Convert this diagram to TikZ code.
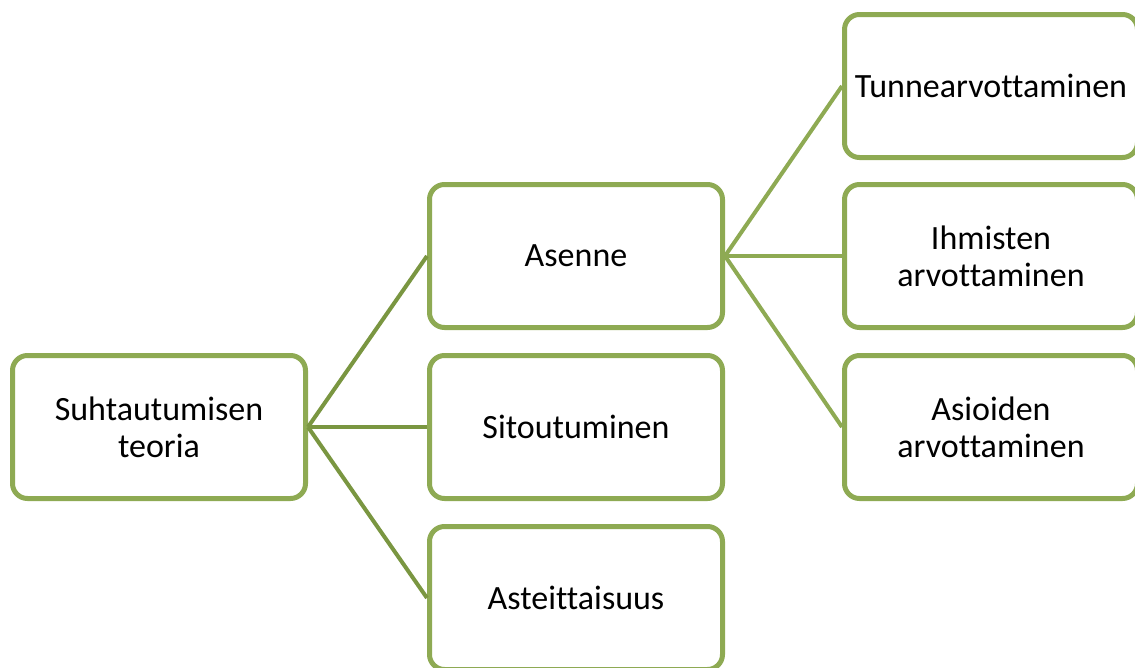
\documentclass[tikz,border=0pt]{standalone}
\usepackage{fontspec}
\setmainfont{Carlito}[Ligatures=NoCommon]
\definecolor{boxgreen}{HTML}{8EAA53}
\definecolor{linkgreen}{HTML}{7A9641}
\begin{document}
\begin{tikzpicture}[x=1pt,y=-1pt,
  box/.style={draw=boxgreen,line width=5pt,rounded corners=15pt,fill=white,
    minimum width=293pt,minimum height=143pt,align=center,inner sep=0pt,
    font=\fontsize{34}{37}\selectfont},
  link/.style={draw=boxgreen,line width=4pt},
  rootlink/.style={draw=linkgreen,line width=4pt}]
  \clip (0,0) rectangle (1135,667);
  \useasboundingbox (0,0) rectangle (1135,667);
  \path (159,427) node[box] (teoria) {Suhtautumisen\\teoria}
  (576,256) node[box] (asenne) {Asenne}
  (576,427) node[box] (sitout) {Sitoutuminen}
  (576,598) node[box] (asteit) {Asteittaisuus};
  \path (991,86) node[box] (tunne) {Tunnearvottaminen}
  (991,256) node[box] (ihmis) {Ihmisten\\arvottaminen}
  (991,427) node[box] (asiat) {Asioiden\\arvottaminen};
  \foreach \n in {asenne,sitout,asteit}
    \draw[rootlink] (teoria.east) -- (\n.west);
  \foreach \n in {tunne,ihmis,asiat}
    \draw[link] (asenne.east) -- (\n.west);
\end{tikzpicture}
\end{document}
